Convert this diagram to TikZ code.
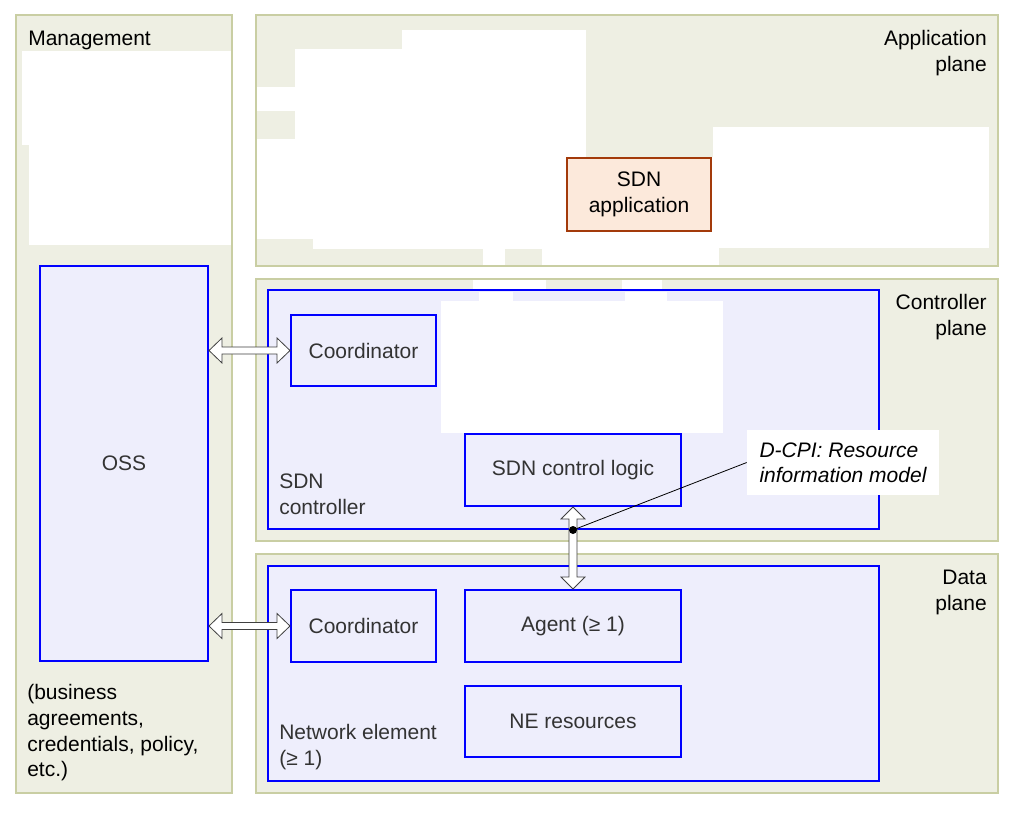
\documentclass[tikz,border=0pt]{standalone}
\usepackage{fontspec}
\setmainfont{Liberation Sans}
\usetikzlibrary{calc}
\definecolor{panelfill}{HTML}{EEEFE3}
\definecolor{paneldraw}{HTML}{C9CEA3}
\definecolor{boxfill}{HTML}{EEEEFC}
\definecolor{boxdraw}{HTML}{0000FF}
\definecolor{appfill}{HTML}{FCE9DB}
\definecolor{appdraw}{HTML}{A33A0A}
\definecolor{txt}{HTML}{333333}
\begin{document}
\begin{tikzpicture}[x=0.75pt,y=-0.75pt,
  every node/.style={font=\fontsize{15.75}{19.5}\selectfont},
  panel/.style={draw=paneldraw,fill=panelfill,line width=1.2pt},
  bluebox/.style={draw=boxdraw,fill=boxfill,line width=1.5pt,text=txt,inner sep=0pt,align=center},
  appbox/.style={draw=appdraw,fill=appfill,line width=1.5pt,inner sep=0pt,align=center},
  blockarrow/.style={draw=black!75,fill=white,line width=0.6pt,line join=miter},
  lbl/.style={inner sep=0pt},
  mask/.style={fill=white}]
\useasboundingbox (0,0) rectangle (1017,814);
\fill[white] (0,0) rectangle (1017,814);
% panels
\draw[panel] (16,15) rectangle (232,793);
\draw[panel] (256,15) rectangle (998,266);
\draw[panel] (256,279) rectangle (998,541);
\draw[panel] (256,554) rectangle (998,793);
% management masks
\fill[mask] (22,51) rectangle (231,145);
\fill[mask] (29,145) rectangle (231,245);
% application masks
\fill[mask] (402,30) rectangle (586,49);
\fill[mask] (295,49) rectangle (586,239);
\fill[mask] (313,239) rectangle (586,249);
\fill[mask] (256.6,87) rectangle (295,111);
\fill[mask] (256.6,139) rectangle (313,239);
\fill[mask] (483,249) rectangle (505,265);
\fill[mask] (542,249) rectangle (719,265);
\fill[mask] (586,157) rectangle (713,249);
\fill[mask] (713,127) rectangle (989,248);
\fill[mask] (713,248) rectangle (719,265);
% controller plane
\fill[mask] (473,280) rectangle (546,289);
\fill[mask] (622,280) rectangle (662,289);
\node[bluebox,minimum width=458.25pt,minimum height=179.25pt] (ctrl) at (573.5,409.5) {};
\fill[mask] (479,292) rectangle (513,301);
\fill[mask] (625,292) rectangle (667,301);
\fill[mask] (441,301) rectangle (723,433);
% data plane
\node[bluebox,minimum width=458.25pt,minimum height=161.25pt] (ne) at (573.5,673.5) {};
% boxes
\node[bluebox,minimum width=126pt,minimum height=296.25pt] (oss) at (124,463.5) {OSS};
\node[bluebox,minimum width=108.75pt,minimum height=53.25pt] (coord1) at (363.5,350.5) {Coordinator};
\node[bluebox,minimum width=162pt,minimum height=54pt] (logic) at (573,470) {SDN control logic};
\node[bluebox,minimum width=108.75pt,minimum height=54pt] (coord2) at (363.5,626) {Coordinator};
\node[bluebox,minimum width=162pt,minimum height=54pt] (agent) at (573,626) {Agent (≥ 1)};
\node[bluebox,minimum width=162pt,minimum height=53.25pt] (neres) at (573,721.5) {NE resources};
\node[appbox,minimum width=108pt,minimum height=54.75pt] (app) at (639,194.5) {SDN\\application};
% labels
\node[lbl,anchor=base west] (mgmt) at (28,45) {Management};
\node[lbl,anchor=north east,align=right] (applbl) at (987,30) {Application\\plane};
\node[lbl,anchor=north east,align=right] (ctrllbl) at (987,294) {Controller\\plane};
\node[lbl,anchor=north east,align=right] (datalbl) at (987,570) {Data\\plane};
\node[lbl,anchor=north west,align=left,text=txt] (ctrlname) at (279,474) {SDN\\controller};
\node[lbl,anchor=north west,align=left,text=txt] (nename) at (279,724) {Network element\\(≥ 1)};
\node[lbl,anchor=north west,align=left,font=\fontsize{15.75}{19.25}\selectfont] (biz) at (27,684.5) {(business\\agreements,\\credentials, policy,\\etc.)};
% block arrows
\coordinate (h1) at (oss.east |- coord1.west);
\draw[blockarrow] (h1) -- ($(h1)+(13,-12.5)$) -- ($(h1)+(13,-3.5)$) -- ($(coord1.west)+(-13,-3.5)$) -- ($(coord1.west)+(-13,-12.5)$) -- (coord1.west) -- ($(coord1.west)+(-13,12.5)$) -- ($(coord1.west)+(-13,3.5)$) -- ($(h1)+(13,3.5)$) -- ($(h1)+(13,12.5)$) -- cycle;
\coordinate (h2) at (oss.east |- coord2.west);
\draw[blockarrow] (h2) -- ($(h2)+(13,-12.5)$) -- ($(h2)+(13,-3.5)$) -- ($(coord2.west)+(-13,-3.5)$) -- ($(coord2.west)+(-13,-12.5)$) -- (coord2.west) -- ($(coord2.west)+(-13,12.5)$) -- ($(coord2.west)+(-13,3.5)$) -- ($(h2)+(13,3.5)$) -- ($(h2)+(13,12.5)$) -- cycle;
\draw[blockarrow] (logic.south) -- ($(logic.south)+(12,12)$) -- ($(logic.south)+(4,12)$) -- ($(agent.north)+(4,-12)$) -- ($(agent.north)+(12,-12)$) -- (agent.north) -- ($(agent.north)+(-12,-12)$) -- ($(agent.north)+(-4,-12)$) -- ($(logic.south)+(-4,12)$) -- ($(logic.south)+(-12,12)$) -- cycle;
% D-CPI annotation
\node[fill=white,minimum width=144pt,minimum height=48.75pt,inner sep=0pt,align=left,font=\fontsize{15.75}{19}\selectfont\itshape] (dcpi) at (843,462.5) {D-CPI: Resource\\information model};
\node[circle,fill=black,inner sep=0pt,minimum size=6pt] (dot) at (573,530) {};
\draw[line width=0.6pt] (dot.center) -- (dcpi.west);
\end{tikzpicture}
\end{document}
